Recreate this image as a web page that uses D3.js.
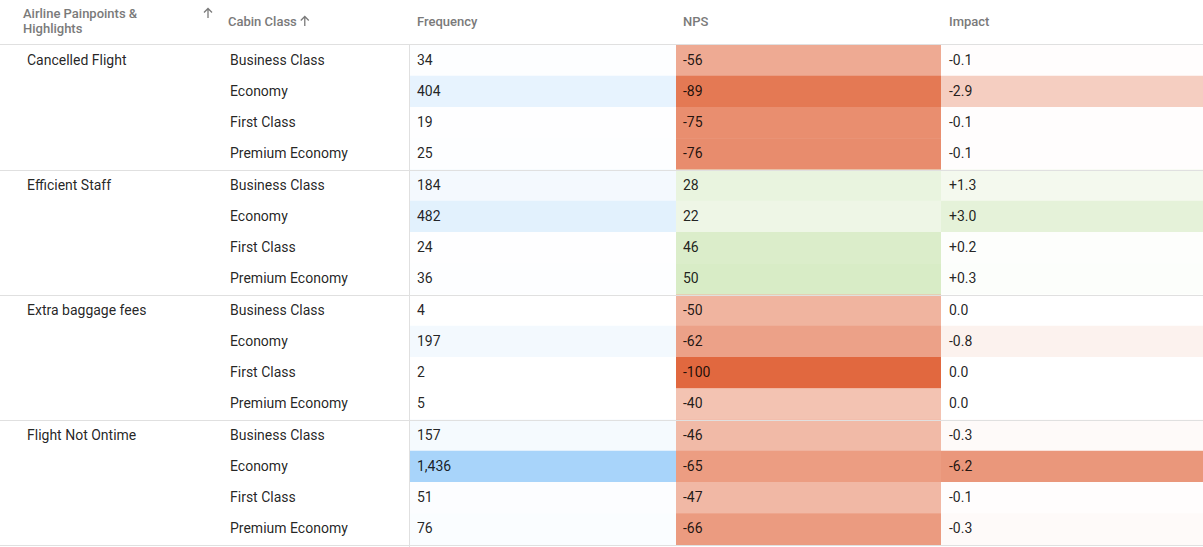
<!DOCTYPE html>
<html lang="en">
<head>
  <meta charset="UTF-8">
  <title>Airline Painpoints &amp; Highlights</title>
  <script src="https://d3js.org/d3.v7.min.js"></script>
  <style>
    html, body { margin: 0; padding: 0; background: #fff; }
    svg { display: block; font-family: Roboto, "Noto Sans", sans-serif; }
    .head { fill: #7a7a7a; font-size: 13px; font-weight: 500; }
    .cell { fill: rgba(0,0,0,0.87); font-size: 14px; }
    .grid { stroke: #e0e0e0; stroke-width: 1; shape-rendering: crispEdges; }
    .arrow { fill: none; stroke: #7a7a7a; stroke-width: 1.3; }
  </style>
</head>
<body>
  <div id="chart"></div>
  <script>
    // Dados da tabela
    const painpoints = ["Cancelled Flight", "Efficient Staff", "Extra baggage fees", "Flight Not Ontime"];
    const cabins = ["Business Class", "Economy", "First Class", "Premium Economy"];
    const frequency = [34, 404, 19, 25, 184, 482, 24, 36, 4, 197, 2, 5, 157, 1436, 51, 76];
    const nps = [-56, -89, -75, -76, 28, 22, 46, 50, -50, -62, -100, -40, -46, -65, -47, -66];
    const impact = [-0.1, -2.9, -0.1, -0.1, 1.3, 3.0, 0.2, 0.3, 0.0, -0.8, 0.0, 0.0, -0.3, -6.2, -0.1, -0.3];
    const headers = ["Airline Painpoints &", "Highlights", "Cabin Class", "Frequency", "NPS", "Impact"];

    const width = 1203, height = 547;
    const headerH = 44.5;

    const rows = [];
    painpoints.forEach((p, i) => {
      cabins.forEach((c, j) => {
        const k = i * cabins.length + j;
        rows.push({ group: i, first: j === 0, painpoint: p, cabin: c,
                    freq: frequency[k], nps: nps[k], impact: impact[k] });
      });
    });

    const y = d3.scaleLinear().domain([0, rows.length]).range([headerH, headerH + rows.length * 31.25]);
    const rowH = y(1) - y(0);

    // Colunas: [x inicial, x final]
    const cols = { pain: [0, 228], cabin: [228, 409], freq: [409, 676], nps: [676, 941], impact: [941, width] };

    const freqColor = d3.scaleLinear().domain([0, d3.max(frequency)]).range(["#ffffff", "#a8d4fa"]);
    const npsColor = d3.scaleLinear().domain([-100, 0, 100]).range(["#e1683f", "#ffffff", "#b0d88c"]);
    const impactColor = d3.scaleLinear().domain([-9, 0, 9]).range(["#e1683f", "#ffffff", "#b0d88c"]);

    const fmtFreq = d3.format(",");
    const fmtImpact = v => v === 0 ? "0.0" : d3.format("+.1f")(v).replace("\u2212", "-");
    const fmtNps = v => String(v);

    const svg = d3.select("#chart").append("svg")
      .attr("width", width)
      .attr("height", height);

    // Fundos coloridos
    const bg = [
      { key: "freq", color: d => freqColor(d.freq) },
      { key: "nps", color: d => npsColor(d.nps) },
      { key: "impact", color: d => impactColor(d.impact) }
    ];
    bg.forEach(b => {
      svg.append("g").selectAll("rect")
        .data(rows)
        .join("rect")
        .attr("x", cols[b.key][0] + (b.key === "freq" ? 1 : 0))
        .attr("y", (d, i) => y(i))
        .attr("width", cols[b.key][1] - cols[b.key][0] - (b.key === "freq" ? 1 : 0))
        .attr("height", rowH + 0.5)
        .attr("fill", b.color);
    });

    // Linhas da grade
    const lines = svg.append("g");
    lines.append("line").attr("class", "grid")
      .attr("x1", 0).attr("x2", width).attr("y1", headerH).attr("y2", headerH);
    d3.range(1, painpoints.length + 1).forEach(g => {
      const yy = Math.round(y(g * cabins.length)) + 0.5;
      lines.append("line").attr("class", "grid")
        .attr("x1", 0).attr("x2", width).attr("y1", yy).attr("y2", yy);
    });
    lines.append("line").attr("class", "grid")
      .attr("x1", cols.freq[0] + 0.5).attr("x2", cols.freq[0] + 0.5)
      .attr("y1", headerH).attr("y2", height);

    // Cabeçalho
    const head = svg.append("g");
    head.append("text").attr("class", "head").attr("x", 23).attr("y", 18).text(headers[0]);
    head.append("text").attr("class", "head").attr("x", 23).attr("y", 33).text(headers[1]);
    const cabinLabel = head.append("text").attr("class", "head").attr("x", 228).attr("y", 26).text(headers[2]);
    head.append("text").attr("class", "head").attr("x", 417).attr("y", 26).text(headers[3]);
    head.append("text").attr("class", "head").attr("x", 683).attr("y", 26).text(headers[4]);
    head.append("text").attr("class", "head").attr("x", 949).attr("y", 26).text(headers[5]);

    // Ícones de ordenação (seta para cima)
    function sortArrow(cx, cy) {
      head.append("path").attr("class", "arrow")
        .attr("d", `M${cx},${cy + 5}V${cy - 4.5}M${cx - 4},${cy - 0.5}L${cx},${cy - 4.5}L${cx + 4},${cy - 0.5}`);
    }
    sortArrow(208, 13);
    const cabinW = cabinLabel.node().getComputedTextLength();
    sortArrow(228 + cabinW + 8, 21);

    // Células de texto
    const body = svg.append("g").selectAll("g")
      .data(rows)
      .join("g")
      .attr("transform", (d, i) => `translate(0,${y(i) + rowH / 2})`);

    body.filter(d => d.first).append("text")
      .attr("class", "cell").attr("x", 27).attr("dy", "0.32em")
      .text(d => d.painpoint);
    body.append("text").attr("class", "cell").attr("x", 230).attr("dy", "0.32em")
      .text(d => d.cabin);
    body.append("text").attr("class", "cell").attr("x", 417).attr("dy", "0.32em")
      .text(d => fmtFreq(d.freq));
    body.append("text").attr("class", "cell").attr("x", 683).attr("dy", "0.32em")
      .text(d => fmtNps(d.nps));
    body.append("text").attr("class", "cell").attr("x", 949).attr("dy", "0.32em")
      .text(d => fmtImpact(d.impact));
  </script>
</body>
</html>
